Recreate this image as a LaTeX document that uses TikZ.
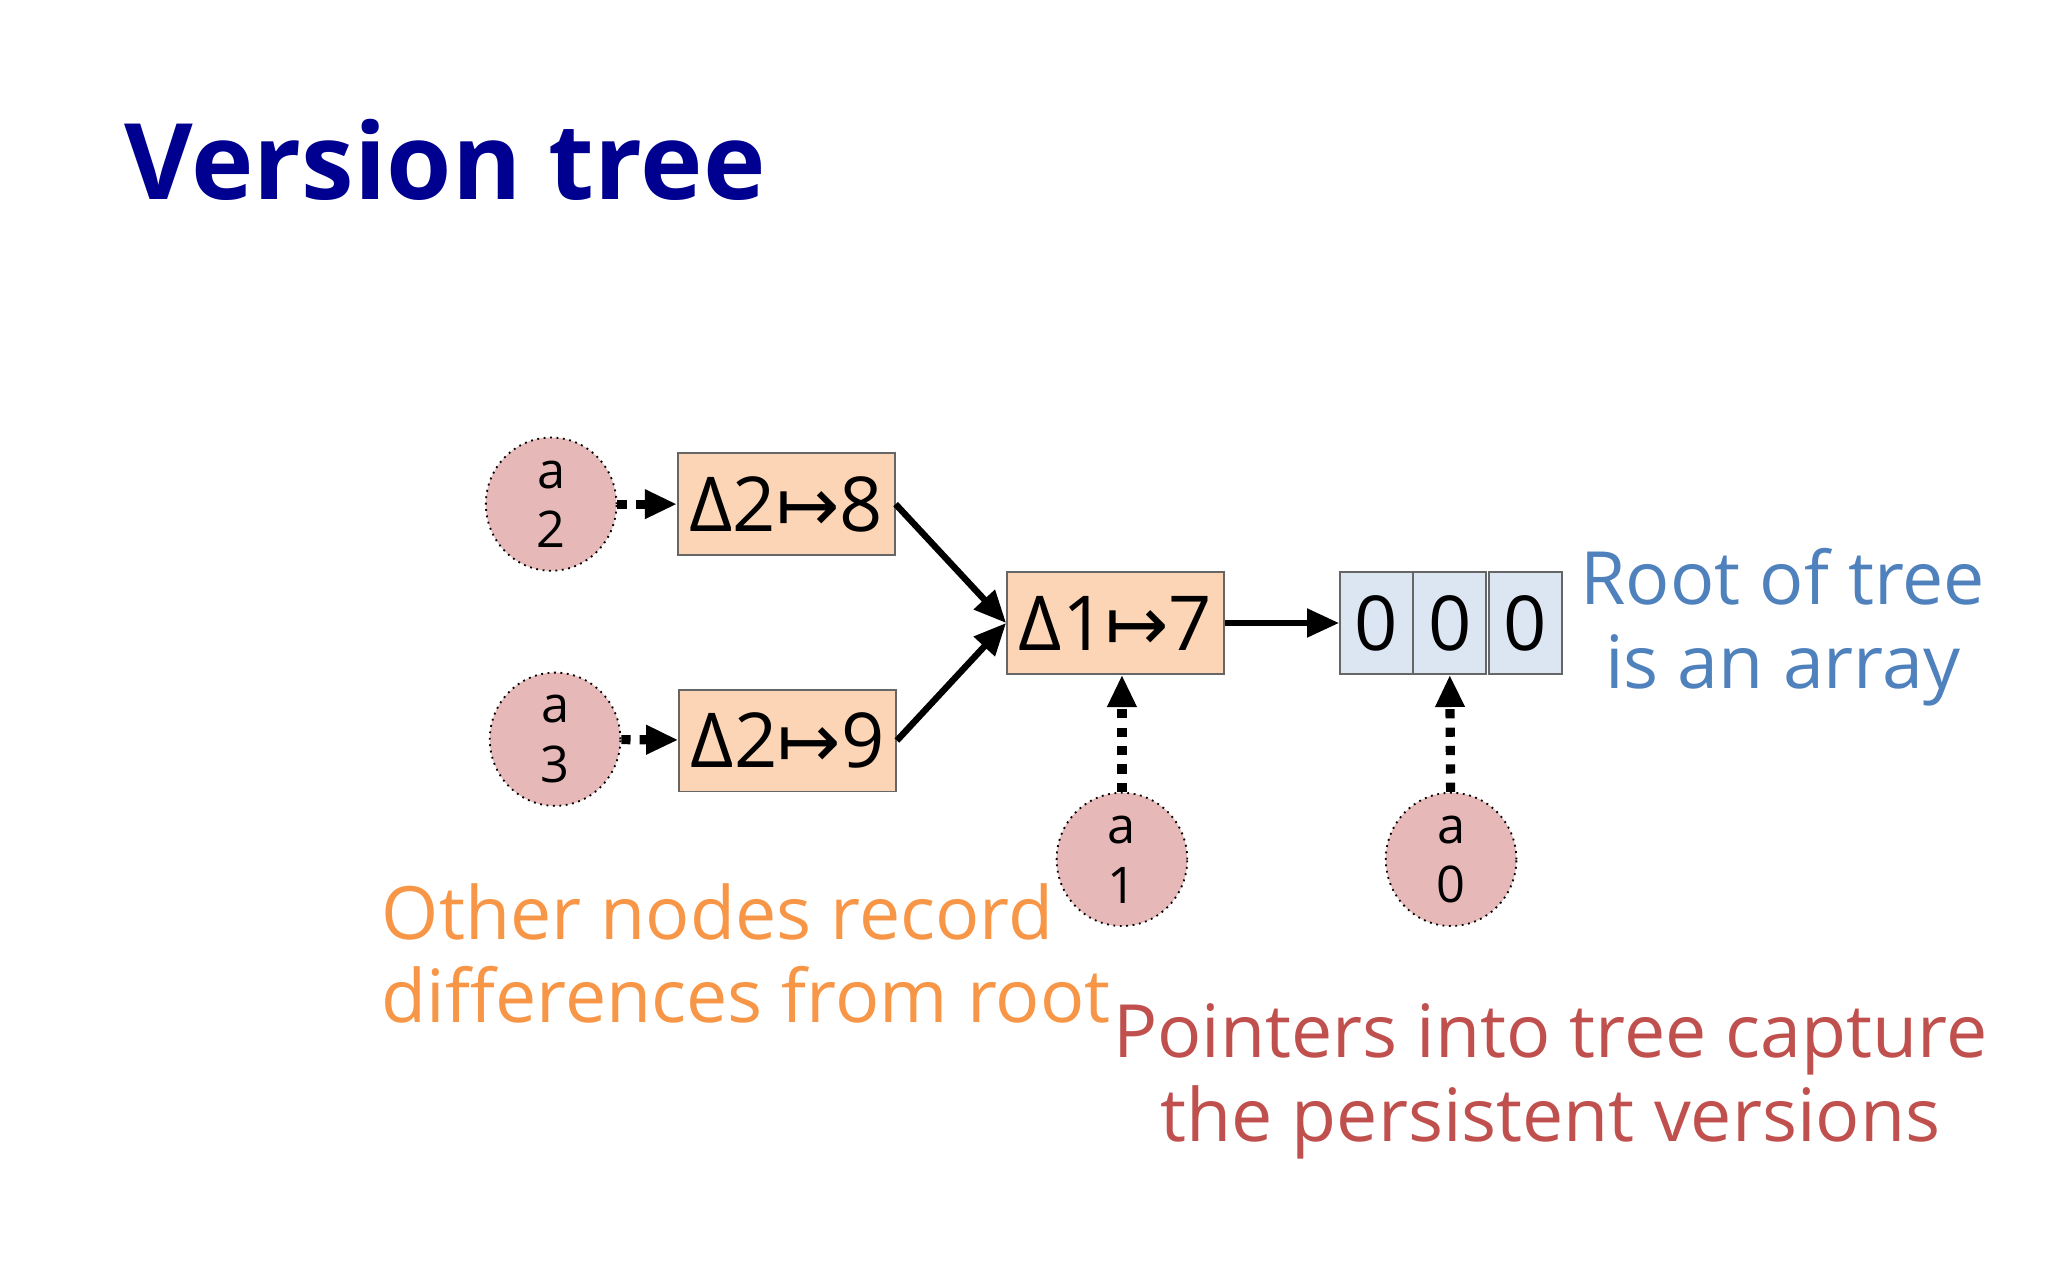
\documentclass[tikz,border=0pt]{standalone}
\usepackage{fontspec}
\setmainfont{Open Sans}
\newfontfamily\djv{DejaVu Sans}
\usetikzlibrary{arrows.meta}
\definecolor{titleblue}{HTML}{000090}
\definecolor{boxfill}{HTML}{FBD5B5}
\definecolor{arrfill}{HTML}{DCE6F2}
\definecolor{circfill}{HTML}{E6B9B8}
\definecolor{myblue}{HTML}{4F81BD}
\definecolor{myorange}{HTML}{F79646}
\definecolor{myred}{HTML}{C0504D}
\newcommand{\mto}{{\djv ↦}}
\begin{document}
\begin{tikzpicture}[x=0.01cm,y=-0.01cm,
  dbox/.style={draw=gray!80!black,fill=boxfill,minimum width=166*0.01cm,minimum height=78*0.01cm,inner sep=0pt,font=\fontsize{16.5}{18}\selectfont},
  cell/.style={draw=gray!80!black,fill=arrfill,minimum width=56*0.01cm,minimum height=78*0.01cm,inner sep=0pt,font=\fontsize{16.5}{18}\selectfont},
  ptr/.style={ellipse,draw,densely dotted,fill=circfill,minimum width=100*0.01cm,minimum height=102*0.01cm,inner sep=0pt,align=center,font=\fontsize{11}{13}\selectfont},
  solid arr/.style={-{Triangle[length=7pt,width=6pt]},line width=1.4pt},
  dot arr/.style={-{Triangle[length=7pt,width=6pt]},line width=2pt,dotted},
  note/.style={align=center,font=\fontsize{16}{18.2}\selectfont}]
\useasboundingbox (0,0) rectangle (1568,980);
\usetikzlibrary{shapes.geometric}
\node[anchor=base west,font=\fontsize{23}{26}\bfseries\selectfont,text=titleblue,inner sep=0pt] (title) at (95,153) {Version tree};
\node[dbox] (b8) at (602,386) {Δ2\mto8};
\node[dbox] (b9) at (603,567) {Δ2\mto9};
\node[dbox] (b7) at (854,477) {Δ1\mto7};
\node[cell] (c1) at (1054,477) {0};
\node[cell] (c2) at (1110,477) {0};
\node[cell] (c3) at (1168,477) {0};
\node[ptr] (a2) at (422,386) {a\\2};
\node[ptr] (a3) at (425,566) {a\\3};
\node[ptr] (a1) at (859,658) {a\\1};
\node[ptr] (a0) at (1111,658) {a\\0};
\draw[dot arr] (a2) -- (b8);
\draw[dot arr] (a3) -- (b9);
\draw[solid arr] (b8.east) -- (b7.west);
\draw[solid arr] (b9.east) -- (b7.west);
\draw[solid arr] (b7) -- (c1);
\draw[dot arr] (a1) -- (b7.south -| a1);
\draw[dot arr] (a0) -- (c2.south);
\node[note,text=myblue] (root) at (1365,480) {Root of tree\\is an array};
\node[note,text=myorange,align=left,anchor=west] (other) at (280,730) {Other nodes record\\differences from root};
\node[note,text=myred] (ptrs) at (1187,828) {Pointers into tree capture\\the persistent versions};
\end{tikzpicture}
\end{document}
